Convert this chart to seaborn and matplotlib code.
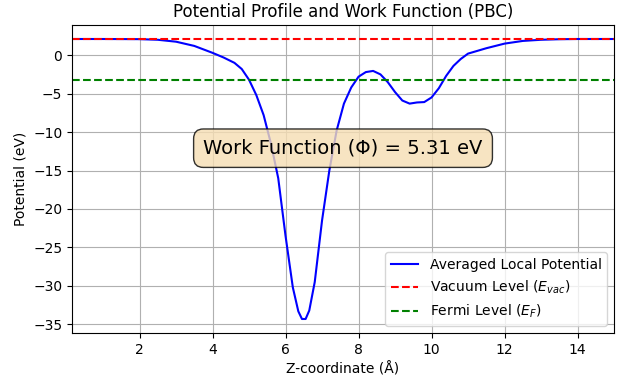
import matplotlib
matplotlib.use("Agg")
import matplotlib.pyplot as plt
import seaborn as sns
import pandas as pd

# values
z_coord = [0.15, 1.0, 2.0, 2.5, 3.0, 3.5, 4.0, 4.3, 4.6, 4.8, 5.0, 5.2, 5.4, 5.6,
           5.8, 6.0, 6.2, 6.35, 6.45, 6.55, 6.65, 6.8, 7.0, 7.2, 7.4, 7.6, 7.8,
           8.0, 8.2, 8.4, 8.6, 8.8, 9.0, 9.2, 9.4, 9.6, 9.8, 10.0, 10.2, 10.4,
           10.6, 10.8, 11.0, 11.5, 12.0, 12.5, 13.0, 13.5, 14.0, 15.0]
potential = [2.1, 2.1, 2.08, 2.0, 1.75, 1.2, 0.3, -0.3, -1.0, -1.8, -3.2, -5.2,
             -7.8, -11.5, -16.0, -23.5, -30.2, -33.3, -34.3, -34.3, -33.2, -29.5,
             -21.5, -15.0, -9.8, -6.3, -4.2, -2.8, -2.2, -2.05, -2.5, -3.5, -4.8,
             -5.9, -6.3, -6.15, -6.1, -5.5, -4.3, -2.7, -1.4, -0.5, 0.2, 0.9, 1.5,
             1.85, 2.0, 2.07, 2.1, 2.1]
vacuum_level = 2.08
work_function = 5.31
fermi_level = vacuum_level - work_function

df = pd.DataFrame({"z": z_coord, "V": potential})

fig, ax = plt.subplots(figsize=(6.23, 3.76), dpi=100)
sns.lineplot(data=df, x="z", y="V", ax=ax, color="blue", label="Averaged Local Potential")
ax.axhline(vacuum_level, color="red", linestyle="--", label=r"Vacuum Level ($E_{vac}$)")
ax.axhline(fermi_level, color="green", linestyle="--", label=r"Fermi Level ($E_F$)")

ax.text(0.5, 0.6, f"Work Function (\u03a6) = {work_function:.2f} eV", transform=ax.transAxes,
        fontsize=14, ha="center", va="center",
        bbox=dict(boxstyle="round,pad=0.5", facecolor="wheat", alpha=0.8))

ax.set_xlim(min(z_coord), max(z_coord))
ax.set_title("Potential Profile and Work Function (PBC)")
ax.set_xlabel("Z-coordinate (\u00c5)")
ax.set_ylabel("Potential (eV)")
ax.grid(True)
ax.legend(loc="lower right")
fig.subplots_adjust(left=0.1156, right=0.9856, top=0.9335, bottom=0.1144)
fig.savefig("out.png", dpi=100)
